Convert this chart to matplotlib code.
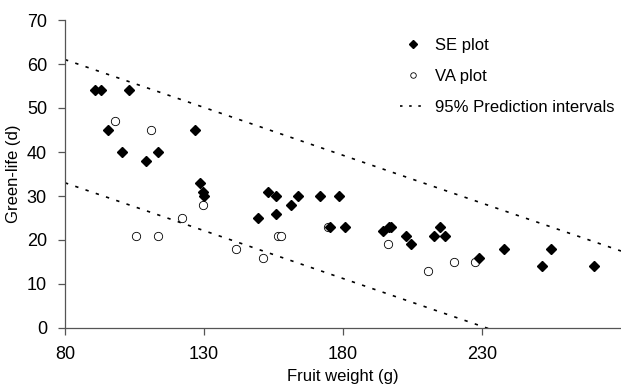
import numpy as np
import matplotlib
matplotlib.use('Agg')
from matplotlib import pyplot as plt
from matplotlib.lines import Line2D

plt.rcParams['font.family'] = ['Liberation Sans', 'DejaVu Sans']

# SE plot (filled diamonds)
se_weight = [90.8, 92.9, 103.0, 95.6, 100.4, 109.1, 113.3, 126.8, 128.6, 129.5, 130.1,
             153.1, 155.8, 163.9, 171.8, 178.6, 161.2, 149.4, 155.8, 175.3, 180.7,
             194.3, 196.7, 197.3, 202.7, 204.4, 214.8, 212.6, 216.6, 229.0, 238.0,
             254.8, 251.5, 270.2]
se_life = [54, 54, 54, 45, 40, 38, 40, 45, 33, 31, 30,
           31, 30, 30, 30, 30, 28, 25, 26, 23, 23,
           22, 23, 23, 21, 19, 23, 21, 21, 16, 18,
           18, 14, 14]

# VA plot (open circles)
va_weight = [98.1, 110.8, 129.5, 122.0, 105.6, 113.3, 141.4, 151.2, 156.7, 157.6,
             174.5, 196.1, 210.7, 219.9, 227.6]
va_life = [47, 45, 28, 25, 21, 21, 18, 16, 21, 21,
           23, 19, 13, 15, 15]

# 95% prediction interval lines (end points)
pi_weight = [80, 280]
pi_upper = [61.0, 17.5]
pi_lower = [33.0, -10.5]

fig = plt.figure(figsize=(6.21, 3.89), dpi=100)
ax = fig.add_axes([65 / 621, 1 - 328 / 389, 1 - 65 / 621, (328 - 20) / 389])

dots = (0, (2.0, 4.5))
ax.plot(pi_weight, pi_upper, color='black', lw=1.2, linestyle=dots)
ax.plot(pi_weight, pi_lower, color='black', lw=1.2, linestyle=dots)
ax.plot(va_weight, va_life, linestyle='none', marker='o', ms=6.0,
        mfc='white', mec='black', mew=0.6)
ax.plot(se_weight, se_life, linestyle='none', marker='D', ms=5.0,
        mfc='black', mec='black')

ax.set_xlim(80, 280)
ax.set_ylim(0, 70)
ax.set_xticks([80, 130, 180, 230])
ax.set_yticks(range(0, 71, 10))
ax.spines['top'].set_visible(False)
ax.spines['right'].set_visible(False)
for s in ['left', 'bottom']:
    ax.spines[s].set_color('#555555')
    ax.spines[s].set_linewidth(0.9)
ax.tick_params(direction='out', length=5, width=0.9, color='#555555',
               labelsize=13, pad=8)
ax.set_xlabel('Fruit weight (g)', fontsize=12, labelpad=4)
ax.set_ylabel('Green-life (d)', fontsize=12, labelpad=4)

handles = [
    Line2D([], [], linestyle='none', marker='D', ms=3.6, mfc='black', mec='black'),
    Line2D([], [], linestyle='none', marker='o', ms=4.0, mfc='white', mec='black', mew=0.6),
    Line2D([], [], color='black', lw=1.2, linestyle=(0, (1.5, 4.0))),
]
ax.legend(handles, ['SE plot', 'VA plot', '95% Prediction intervals'],
          loc='upper right', bbox_to_anchor=(1.015, 0.99), frameon=False,
          fontsize=12, handlelength=1.6, labelspacing=0.95, handletextpad=0.5)

fig.savefig('out.png', dpi=100)
